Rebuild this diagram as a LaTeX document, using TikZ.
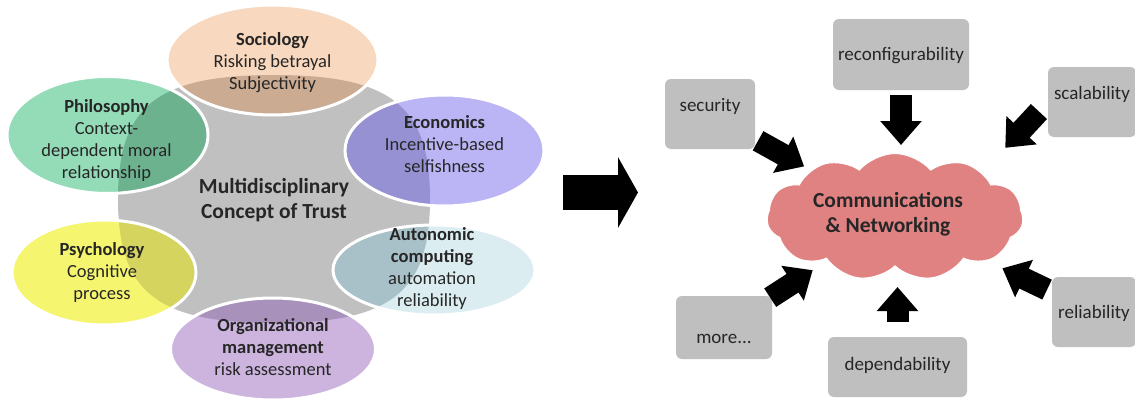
\documentclass[tikz,border=0pt]{standalone}
\usepackage{fontspec}
\setmainfont{Carlito}
\usetikzlibrary{shapes.geometric,shapes.symbols,arrows.meta,calc}
\definecolor{txt}{RGB}{38,38,38}
\definecolor{trustgray}{RGB}{192,192,192}
\definecolor{boxgray}{RGB}{191,191,191}
\definecolor{socL}{RGB}{248,217,191}
\definecolor{socD}{RGB}{204,171,147}
\definecolor{phiL}{RGB}{148,220,184}
\definecolor{phiD}{RGB}{108,178,142}
\definecolor{ecoL}{RGB}{187,181,245}
\definecolor{ecoD}{RGB}{150,145,210}
\definecolor{psyL}{RGB}{245,245,112}
\definecolor{psyD}{RGB}{212,212,95}
\definecolor{autL}{RGB}{220,237,242}
\definecolor{autD}{RGB}{168,192,200}
\definecolor{orgL}{RGB}{204,180,223}
\definecolor{orgD}{RGB}{168,145,186}
\definecolor{cloudc}{RGB}{225,130,130}
\newcommand{\trustshape}{(gT) .. controls ($(gT)+(117,0)$) and ($(gR)+(0,-93)$) .. (gR) .. controls ($(gR)+(0,93)$) and ($(gB)+(117,0)$) .. (gB) .. controls ($(gB)+(-117,0)$) and ($(gL)+(0,93)$) .. (gL) .. controls ($(gL)+(0,-93)$) and ($(gT)+(-117,0)$) .. (gT) -- cycle}
\tikzset{
  disc/.style={ellipse, draw=white, line width=3pt, inner sep=0pt},
  ltxt/.style={font=\fontsize{18.5}{22}\selectfont, align=center, text=txt, inner sep=0pt},
  tag/.style={fill=boxgray, rounded corners=6pt, inner sep=0pt},
  tagtxt/.style={font=\fontsize{19}{22}\selectfont, text=txt, inner sep=0pt},
  ctxt/.style={font=\bfseries\fontsize{21.5}{25}\selectfont, align=center, text=txt, inner sep=0pt},
  blk/.style={draw=black, line width=22pt, -{Triangle[length=24pt, width=40pt]}},
}
\begin{document}
\begin{tikzpicture}[x=1pt, y=-1pt]
\useasboundingbox (0,0) rectangle (1135,399);
\fill[white] (0,0) rectangle (1135,399);
% central shape
\coordinate (gT) at (274,75);
\coordinate (gR) at (430,199);
\coordinate (gB) at (274,323);
\coordinate (gL) at (118,199);
\fill[trustgray] \trustshape;
% ellipses
\node[disc, fill=socL, minimum width=211pt, minimum height=110pt,
  path picture={\fill[socD] \trustshape;},
  label={[ltxt, name=socT, yshift=-3pt]center:{\textbf{Sociology}\\Risking betrayal\\Subjectivity}}] (soc) at (272.5,60) {};
\node[disc, fill=phiL, minimum width=201pt, minimum height=117pt,
  path picture={\fill[phiD] \trustshape;},
  label={[ltxt, name=phiT, yshift=-5pt, xshift=-1pt]center:{\textbf{Philosophy}\\Context-\\dependent moral\\relationship}}] (phi) at (107.5,135) {};
\node[disc, fill=ecoL, minimum width=199pt, minimum height=111pt,
  path picture={\fill[ecoD] \trustshape;},
  label={[ltxt, name=ecoT, yshift=6pt]center:{\textbf{Economics}\\Incentive-based\\selfishness}}] (eco) at (444.5,150.5) {};
\node[disc, fill=psyL, minimum width=184pt, minimum height=105pt,
  path picture={\fill[psyD] \trustshape;},
  label={[ltxt, name=psyT, xshift=-2pt]center:{\textbf{Psychology}\\Cognitive\\process}}] (psy) at (104,272.5) {};
\node[disc, fill=autL, minimum width=202pt, minimum height=90pt,
  path picture={\fill[autD] \trustshape;},
  label={[ltxt, name=autT, yshift=2pt, xshift=-2pt]center:{\textbf{Autonomic}\\\textbf{computing}\\automation\\reliability}}] (aut) at (434,270) {};
\node[disc, fill=orgL, minimum width=205pt, minimum height=102pt,
  path picture={\fill[orgD] \trustshape;},
  label={[ltxt, name=orgT, yshift=2pt]center:{\textbf{Organizational}\\\textbf{management}\\risk assessment}}] (org) at (273,349) {};
\node[ctxt, font=\bfseries\fontsize{21.5}{24.5}\selectfont] (ctr) at (274,200) {Multidisciplinary\\Concept of Trust};
% big arrow
\coordinate (bigA) at (563,192.5);
\coordinate (bigB) at (638,192.5);
\draw[line width=35pt, -{Triangle[length=20pt, width=70pt]}] (bigA) -- (bigB);
% boxes
\node[tag, minimum width=90pt, minimum height=70pt,
  label={[tagtxt, name=secT, yshift=8pt]center:security}] (sec) at (710,114) {};
\node[tag, minimum width=136pt, minimum height=71pt,
  label={[tagtxt, name=recT, yshift=-1.5pt]center:reconfigurability}] (rec) at (901,54.5) {};
\node[tag, minimum width=88pt, minimum height=70pt,
  label={[tagtxt, name=scaT, yshift=8pt]center:scalability}] (sca) at (1092,102) {};
\node[tag, minimum width=84pt, minimum height=70pt,
  label={[tagtxt, name=relT, yshift=-1pt]center:reliability}] (rel) at (1094,312) {};
\node[tag, minimum width=139pt, minimum height=60pt,
  label={[tagtxt, name=depT, yshift=2pt]center:dependability}] (dep) at (897.5,367) {};
\node[tag, minimum width=96pt, minimum height=63pt,
  label={[tagtxt, name=morT, yshift=-11.5pt]center:more...}] (mor) at (724,327.5) {};
% cloud
\node[cloud, cloud puffs=11, cloud puff arc=100, cloud ignores aspect,
  minimum width=256pt, minimum height=127pt, inner sep=0pt,
  fill=cloudc, draw=white, line width=1pt,
  label={[ctxt, name=cloudT, xshift=-7pt, yshift=2.5pt]center:{Communications\\\& Networking}}] (cloud) at (895,217) {};
% arrows
\draw[blk, shorten <=55pt, shorten >=104pt] (sec.center) -- (cloud.center);
\draw[blk, shorten <=5pt, shorten >=72pt] (rec.south) -- (rec.south |- cloud.center);
\draw[blk, shorten <=13pt, shorten >=162pt] (sca.west) -- (cloud.south);
\draw[blk, shorten <=52pt, shorten >=119pt] (rel.center) -- (cloud.center);
\draw[blk, shorten <=15pt, shorten >=70pt] (dep.north) -- (dep.north |- cloud.center);
\draw[blk, shorten <=55pt, shorten >=98pt] (mor.center) -- (cloud.center);
\end{tikzpicture}
\end{document}
